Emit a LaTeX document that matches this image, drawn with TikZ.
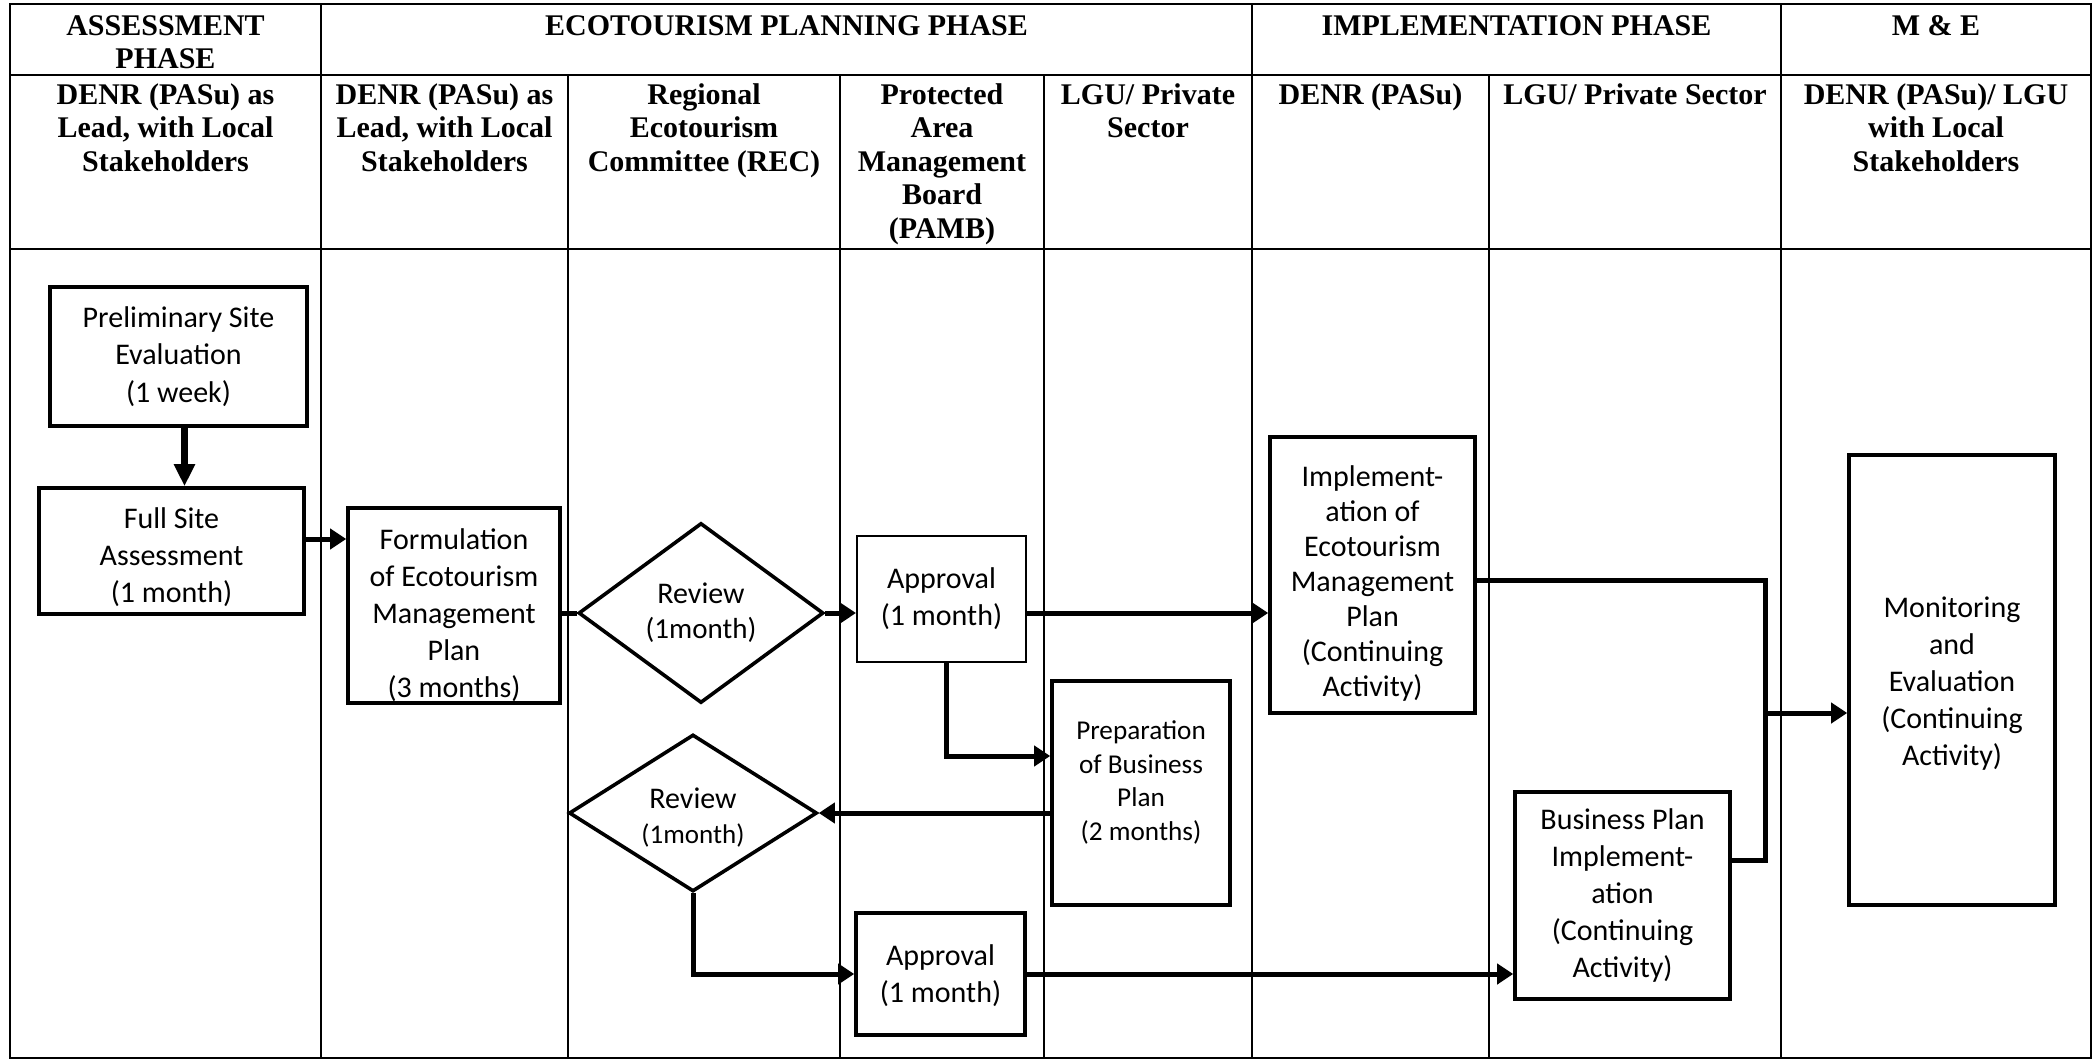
\documentclass[tikz,border=0pt]{standalone}
\usepackage{fontspec}
\setmainfont{Liberation Serif}
\newfontfamily\boxfont{Carlito}
\usetikzlibrary{shapes.geometric,arrows.meta,calc}
\newcommand{\myhstrut}{\rule{0pt}{11pt}}
\begin{document}
\begin{tikzpicture}[x=0.5pt,y=-0.5pt,
 tline/.style={line width=0.8pt},
 hline/.style={line width=1pt},
 hdr/.style={anchor=north,inner sep=0pt,align=center,font=\fontsize{15}{16.7}\selectfont\bfseries},
 stepbox/.style={draw,line width=1.8pt,inner sep=0pt},
 thinbox/.style={stepbox,line width=1pt},
 decision/.style={draw,diamond,line width=1.8pt,inner sep=0pt,aspect=1.6},
 boxtext/.style={inner sep=0pt,align=center,font=\boxfont\fontsize{15}{18.5}\selectfont},
 conn/.style={line width=2.5pt},
 arr/.style={conn,-{Triangle[length=8pt,width=10pt]}}
]
\fill[white] (0,0) rectangle (2098,1061);
\useasboundingbox (0,0) rectangle (2098,1061);

% table
\draw[hline] (10,4) rectangle (2091,1058);
\draw[hline] (10,75) -- (2091,75);
\draw[hline] (10,249) -- (2091,249);
\foreach \xx in {321,1252,1781} \draw[tline] (\xx,4) -- (\xx,1058);
\foreach \xx in {568,840,1044,1489} \draw[tline] (\xx,75) -- (\xx,1058);

% headers
\node[hdr] (hA) at (165.5,13) {\myhstrut ASSESSMENT\\PHASE};
\node[hdr] (hE) at (786.5,13) {\myhstrut ECOTOURISM PLANNING PHASE};
\node[hdr] (hI) at (1516.5,13) {\myhstrut IMPLEMENTATION PHASE};
\node[hdr] (hM) at (1936,13) {\myhstrut M \& E};

\node[hdr] (r0) at (165.5,82) {\myhstrut DENR (PASu) as\\Lead, with Local\\Stakeholders};
\node[hdr] (r1) at (444.5,82) {\myhstrut DENR (PASu) as\\Lead, with Local\\Stakeholders};
\node[hdr] (r2) at (704,82) {\myhstrut Regional\\Ecotourism\\Committee (REC)};
\node[hdr] (r3) at (942,82) {\myhstrut Protected\\Area\\Management\\Board\\(PAMB)};
\node[hdr] (r4) at (1148,82) {\myhstrut LGU/ Private\\Sector};
\node[hdr] (r5) at (1370.5,82) {\myhstrut DENR (PASu)};
\node[hdr] (r6) at (1635,82) {\myhstrut LGU/ Private Sector};
\node[hdr] (r7) at (1936,82) {\myhstrut DENR (PASu)/ LGU\\with Local\\Stakeholders};

% process shapes
\node[stepbox,minimum width=128.5pt,minimum height=69.5pt] (pre) at (178.5,356.5) {};
\node[stepbox,minimum width=132.5pt,minimum height=63pt] (full) at (171.5,551) {};
\node[stepbox,minimum width=106pt,minimum height=97.5pt] (form) at (454,605.5) {};
\node[decision,minimum width=122.5pt,minimum height=90pt] (rev1) at (701,613) {};
\node[thinbox,minimum width=84.5pt,minimum height=63pt] (app1) at (941.5,599) {};
\node[stepbox,minimum width=89pt,minimum height=112pt] (prep) at (1141,793) {};
\node[decision,minimum width=124pt,minimum height=78.5pt] (rev2) at (693,813) {};
\node[stepbox,minimum width=84.5pt,minimum height=61pt] (app2) at (940.5,974) {};
\node[stepbox,minimum width=102.5pt,minimum height=138pt] (impl) at (1372.5,575) {};
\node[stepbox,minimum width=107.5pt,minimum height=103.5pt] (bp) at (1622.5,895.5) {};
\node[stepbox,minimum width=103pt,minimum height=225pt] (mon) at (1952,680) {};

% texts
\node[boxtext,font=\boxfont\fontsize{15}{18.9}\selectfont] (preT) at (pre.center) {Preliminary Site\\Evaluation\\(1 week)};
\node[boxtext] (fullT) at ([yshift=-3.3pt]full.center) {Full Site\\Assessment\\(1 month)};
\node[boxtext] (formT) at ([yshift=-4.7pt]form.center) {Formulation\\of Ecotourism\\Management\\Plan\\(3 months)};
\node[boxtext,font=\boxfont\fontsize{15}{17.5}\selectfont] (rev1T) at (rev1.center) {Review\\{\fontsize{14.5}{17.5}\selectfont(1month)}};
\node[boxtext] (app1T) at (app1.center) {Approval\\(1 month)};
\node[boxtext,font=\boxfont\fontsize{13.6}{16.8}\selectfont] (prepT) at ([yshift=5.3pt]prep.center) {Preparation\\of Business\\Plan\\(2 months)};
\node[boxtext,font=\boxfont\fontsize{15}{17.2}\selectfont] (rev2T) at ([yshift=-2.3pt]rev2.center) {Review\\{\fontsize{13.5}{17.2}\selectfont(1month)}};
\node[boxtext] (app2T) at ([yshift=-1pt]app2.center) {Approval\\(1 month)};
\node[boxtext,font=\boxfont\fontsize{15}{17.5}\selectfont] (implT) at ([yshift=-4pt]impl.center) {Implement-\\ation of\\Ecotourism\\Management\\Plan\\(Continuing\\Activity)};
\node[boxtext] (bpT) at (bp.center) {Business Plan\\Implement-\\ation\\(Continuing\\Activity)};
\node[boxtext] (monT) at ([yshift=-1.7pt]mon.center) {Monitoring\\and\\Evaluation\\(Continuing\\Activity)};

% connectors
\draw[conn,line width=3.2pt,-{Triangle[length=11pt,width=10pt]}] ([xshift=3pt]pre.south) -- ([xshift=3pt]pre.south |- full.north);
\draw[arr] ([yshift=6pt]full.east) -- ([yshift=6pt]full.east -| form.west);
\draw[conn] (form.east |- rev1.west) -- (rev1.west);
\draw[arr] (rev1.east) -- (rev1.east -| app1.west);
\draw[arr] (rev1.east -| app1.east) -- (rev1.east -| impl.west);
\draw[arr] ([xshift=2.25pt]app1.south) |- ([yshift=18.5pt]prep.west);
\draw[arr] (prep.west |- rev2.east) -- (rev2.east);
\draw[arr] (rev2.south) |- (app2.west);
\draw[arr] (app2.east) -- (app2.east -| bp.west);
\coordinate (jt) at (1765,580);
\coordinate (jb) at (1765,860);
\coordinate (jm) at (1765,713);
\draw[conn] (impl.east |- jt) -- (jt) -- (jb) -- (jb -| bp.east);
\draw[arr] (jm) -- (jm -| mon.west);
\end{tikzpicture}
\end{document}
